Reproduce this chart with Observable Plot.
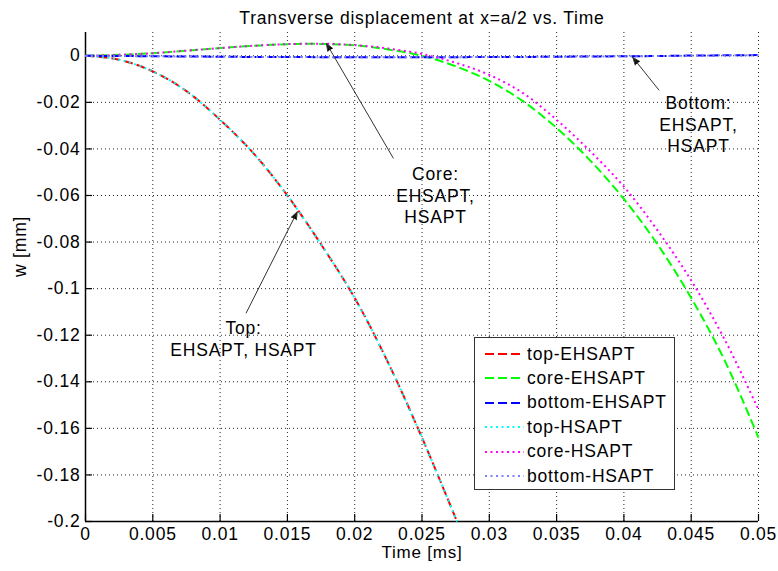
<!DOCTYPE html>
<html>
<head>
<meta charset="utf-8">
<script src="https://cdn.jsdelivr.net/npm/d3@7"></script>
<script src="https://cdn.jsdelivr.net/npm/@observablehq/plot@0.6"></script>
<style>
  body { margin: 0; background: #fff; }
  #wrap { position: relative; width: 778px; height: 571px; font-family: "Liberation Sans", Arial, sans-serif; }
  #legend { position: absolute; left: 474px; top: 337px; width: 201px; height: 153px; box-sizing: border-box;
            border: 1px solid #333; background: #fff; }
  .row { position: absolute; left: 0; height: 22px; display: flex; align-items: center; }
  .row svg { margin-left: 10px; }
  .row span { margin-left: 3px; font-size: 17.5px; letter-spacing: 0.8px; color: #000; white-space: nowrap; }
</style>
</head>
<body>
<div id="wrap"></div>
<script>
// ---- data ----
const time = [0, 0.0025, 0.005, 0.0075, 0.01, 0.0125, 0.015, 0.0175, 0.02, 0.0225, 0.025,
              0.0275, 0.03, 0.0325, 0.035, 0.0375, 0.04, 0.0425, 0.045, 0.0475, 0.05];
const topTime = [0, 0.0025, 0.005, 0.0075, 0.01, 0.0125, 0.015, 0.0175, 0.02, 0.0225, 0.025, 0.0276];

const topEHSAPT = [0, -0.0017, -0.0067, -0.0152, -0.0275, -0.042, -0.060, -0.081, -0.104, -0.132, -0.164, -0.200];
const topHSAPT  = [0, -0.0017, -0.0067, -0.0152, -0.0275, -0.042, -0.060, -0.081, -0.104, -0.132, -0.164, -0.200];

const coreEHSAPT = [0, 0.0004, 0.0011, 0.0022, 0.0033, 0.0043, 0.0050, 0.0051, 0.0045, 0.0027, 0.0000,
                    -0.0045, -0.0108, -0.0195, -0.031, -0.045, -0.0615, -0.081, -0.104, -0.131, -0.164];
const coreHSAPT  = [0, 0.0004, 0.0011, 0.0022, 0.0033, 0.0043, 0.0050, 0.0052, 0.0046, 0.0031, 0.0008,
                    -0.0030, -0.0082, -0.0160, -0.0275, -0.041, -0.0562, -0.075, -0.0965, -0.122, -0.152];

const bottomEHSAPT = [0, -0.0001, -0.0002, -0.0003, -0.0004, -0.0005, -0.0005, -0.0006, -0.0006, -0.0006, -0.0006,
                      -0.0006, -0.0005, -0.0005, -0.0004, -0.0003, -0.0002, -0.0001, 0.0001, 0.0002, 0.0003];
const bottomHSAPT  = [0, -0.0001, -0.0002, -0.0003, -0.0004, -0.0005, -0.0005, -0.0006, -0.0006, -0.0006, -0.0006,
                      -0.0006, -0.0005, -0.0005, -0.0004, -0.0003, -0.0002, -0.0001, 0.0001, 0.0002, 0.0003];

const xTicks = [0, 0.005, 0.01, 0.015, 0.02, 0.025, 0.03, 0.035, 0.04, 0.045, 0.05];
const xTickLabels = ["0", "0.005", "0.01", "0.015", "0.02", "0.025", "0.03", "0.035", "0.04", "0.045", "0.05"];
const yTicks = [0, -0.02, -0.04, -0.06, -0.08, -0.1, -0.12, -0.14, -0.16, -0.18, -0.2];
const yTickLabels = ["0", "-0.02", "-0.04", "-0.06", "-0.08", "-0.1", "-0.12", "-0.14", "-0.16", "-0.18", "-0.2"];

const seriesNames = ["top-EHSAPT", "core-EHSAPT", "bottom-EHSAPT", "top-HSAPT", "core-HSAPT", "bottom-HSAPT"];
const seriesColors = ["#ff0000", "#00ff00", "#0000ff", "#00ffff", "#ff00ff", "#7f7fff"];
const seriesDash = ["9,4", "9,4", "9,4", "2,3.5", "2,3.5", "2,3.5"];

const titleText = "Transverse displacement at x=a/2 vs. Time";
const xLabel = "Time [ms]";
const yLabel = "w [mm]";

// annotations in data coordinates
const notes = [
  {text: "Top:\nEHSAPT, HSAPT", x: 0.01174, y: -0.1212, x1: 0.01194, y1: -0.1104, x2: 0.01573, y2: -0.0670},
  {text: "Core:\nEHSAPT,\nHSAPT", x: 0.0260, y: -0.0597, x1: 0.02286, y1: -0.0439, x2: 0.0179, y2: 0.0053},
  {text: "Bottom:\nEHSAPT,\nHSAPT", x: 0.04554, y: -0.0293, x1: 0.0426, y1: -0.0147, x2: 0.04066, y2: -0.0007}
];

// ---- build tables ----
const seriesValues = [topEHSAPT, coreEHSAPT, bottomEHSAPT, topHSAPT, coreHSAPT, bottomHSAPT];
const seriesTimes = [topTime, time, time, topTime, time, time];
const tables = seriesValues.map((vals, i) => vals.map((w, j) => ({t: seriesTimes[i][j], w})));

const xFmt = new Map(xTicks.map((d, i) => [d, xTickLabels[i]]));
const yFmt = new Map(yTicks.map((d, i) => [d, yTickLabels[i]]));

const lineMarks = tables.map((tab, i) => Plot.line(tab, {
  x: "t", y: "w", stroke: seriesColors[i], strokeWidth: 2,
  strokeDasharray: seriesDash[i], curve: "catmull-rom", strokeLinecap: "butt"
}));

const chart = Plot.plot({
  width: 778, height: 571,
  marginLeft: 85, marginRight: 20, marginTop: 32, marginBottom: 50,
  style: {fontFamily: "'Liberation Sans', Arial, sans-serif", fontSize: "17.5px", letterSpacing: "0.8px",
          color: "#000", background: "#fff", overflow: "visible"},
  x: {domain: [0, 0.05]},
  y: {domain: [-0.2, 0.01]},
  marks: [
    Plot.gridX(xTicks, {stroke: "#000", strokeOpacity: 0.85, strokeDasharray: "1,3"}),
    Plot.gridY(yTicks, {stroke: "#000", strokeOpacity: 0.85, strokeDasharray: "1,3"}),
    Plot.axisX(xTicks, {tickFormat: d => xFmt.get(d), tickSize: -7, tickPadding: 13, label: null, stroke: "#000", strokeWidth: 1.2}),
    Plot.axisY(yTicks, {tickFormat: d => yFmt.get(d), tickSize: -7, tickPadding: 12, label: null, stroke: "#000", strokeWidth: 1.2}),
    Plot.ruleX([0], {stroke: "#000", strokeWidth: 1.5}),
    Plot.ruleY([-0.2], {stroke: "#000", strokeWidth: 1.5}),
    ...lineMarks.slice(0, 3),
    ...lineMarks.slice(3),
    Plot.arrow(notes, {x1: "x1", y1: "y1", x2: "x2", y2: "y2", stroke: "#333", strokeWidth: 1,
                       fill: "#000", headLength: 12, headAngle: 42}),
    Plot.text(notes, {x: "x", y: "y", text: "text", lineHeight: 1.23, fill: "#000"}),
    Plot.text([titleText], {frameAnchor: "top", dy: -21, fill: "#000"}),
    Plot.text([xLabel], {frameAnchor: "bottom", dy: 36, fontSize: 17, fill: "#000"}),
    Plot.text([yLabel], {frameAnchor: "left", dx: -65, rotate: -90, fill: "#000"})
  ]
});

const wrap = document.getElementById("wrap");
wrap.appendChild(chart);

// legend
const legend = document.createElement("div");
legend.id = "legend";
seriesNames.forEach((name, i) => {
  const row = document.createElement("div");
  row.className = "row";
  row.style.top = (16 + i * 24.4 - 11) + "px";
  row.innerHTML = `<svg width="39" height="6"><line x1="0" y1="3" x2="39" y2="3" stroke="${seriesColors[i]}"
      stroke-width="2" stroke-dasharray="${seriesDash[i]}"/></svg><span>${name}</span>`;
  legend.appendChild(row);
});
wrap.appendChild(legend);
</script>
</body>
</html>
